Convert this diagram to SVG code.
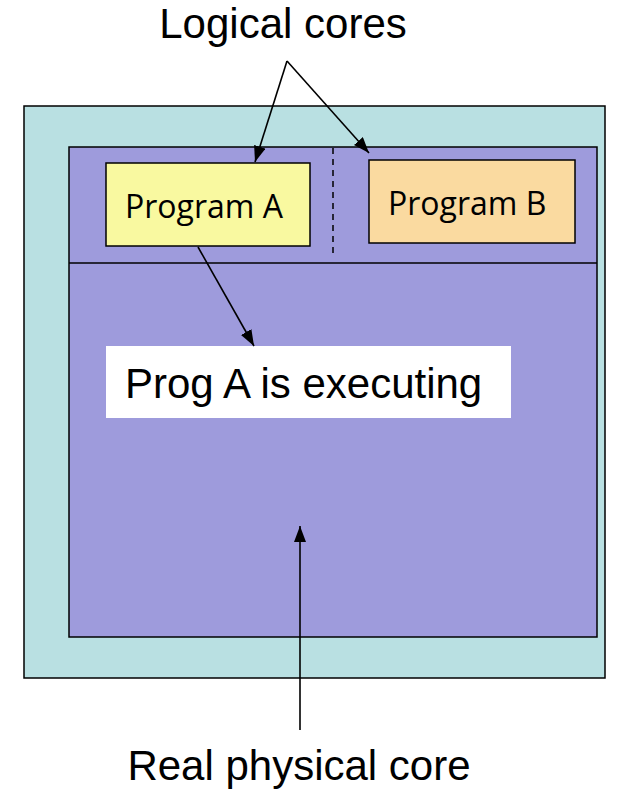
<svg xmlns="http://www.w3.org/2000/svg" width="623" height="793" viewBox="0 0 623 793">
  <style>
    .box { stroke: #000; stroke-width: 1.5; }
    .label { font-family: "Liberation Sans", Arial, sans-serif; font-size: 42px; fill: #000; }
    .prog { font-family: "Open Sans", "Noto Sans", sans-serif; font-size: 32px; fill: #000; }
    .link { stroke: #000; stroke-width: 1.6; fill: none; marker-end: url(#head); }
  </style>
  <defs>
    <marker id="head" viewBox="0 0 16 12" refX="16" refY="6" markerWidth="16" markerHeight="12" markerUnits="userSpaceOnUse" orient="auto">
      <path d="M0,0 L16,6 L0,12 Z" fill="#000"/>
    </marker>
  </defs>

  <rect width="623" height="793" fill="#fff"/>

  <g id="chip">
    <rect class="box" x="24" y="106" width="581" height="572" fill="#B9E0E2"/>
  </g>

  <g id="physical-core">
    <rect class="box" x="69" y="147" width="528" height="490" fill="#9E9BDC"/>
    <line x1="69" y1="263" x2="597" y2="263" stroke="#000" stroke-width="1.5"/>
    <line x1="333" y1="148" x2="333" y2="256" stroke="#000" stroke-width="1.5" stroke-dasharray="6,5"/>
  </g>

  <g id="program-a">
    <rect class="box" x="106" y="163" width="204" height="83" fill="#F9F9A0"/>
    <text class="prog" x="125" y="218">Program A</text>
  </g>

  <g id="program-b">
    <rect class="box" x="369" y="160" width="206" height="83" fill="#FADAA0"/>
    <text class="prog" x="388" y="215">Program B</text>
  </g>

  <g id="status">
    <rect x="106" y="346" width="405" height="72" fill="#fff"/>
    <text class="label" x="125" y="398">Prog A is executing</text>
  </g>

  <g id="logical-cores-label">
    <text class="label" x="283" y="38" text-anchor="middle">Logical cores</text>
  </g>

  <g id="real-core-label">
    <text class="label" x="299" y="780" text-anchor="middle">Real physical core</text>
  </g>

  <g id="connectors">
    <line class="link" x1="287" y1="61" x2="255" y2="162"/>
    <line class="link" x1="287" y1="61" x2="369" y2="153"/>
    <line class="link" x1="198" y1="247" x2="254" y2="346"/>
    <line class="link" x1="300" y1="730" x2="300" y2="526"/>
  </g>
</svg>
